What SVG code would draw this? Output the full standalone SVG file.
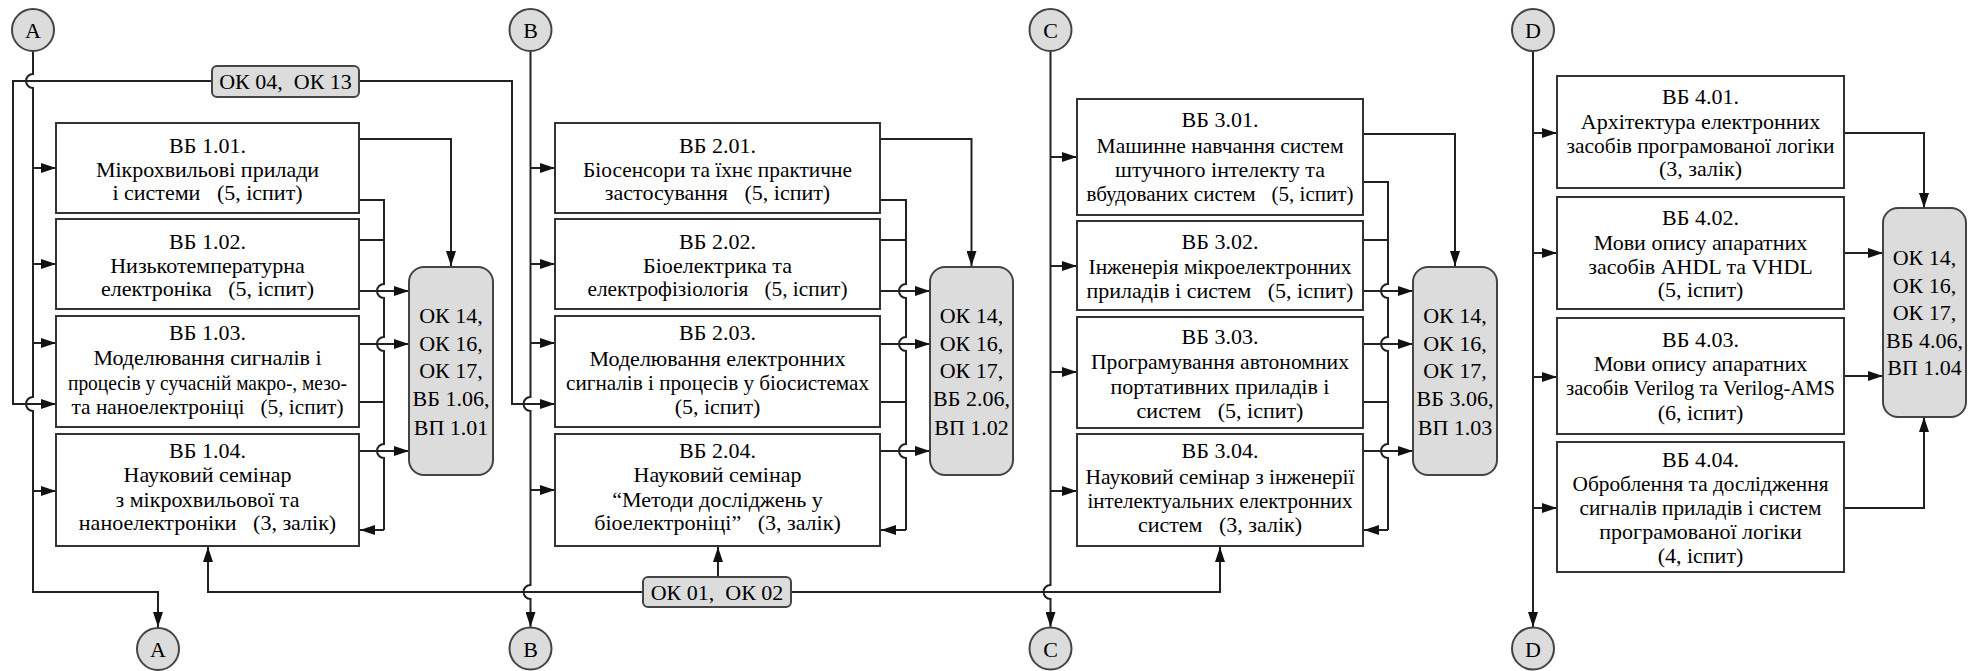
<svg xmlns="http://www.w3.org/2000/svg" width="1975" height="671" viewBox="0 0 1975 671">
<style>
.box{fill:#fff;stroke:#333;stroke-width:2}
.ok{fill:#dcdcdc;stroke:#444;stroke-width:2}
.cir{fill:#dcdcdc;stroke:#444;stroke-width:2}
text{font-family:"Liberation Serif","DejaVu Serif",serif;fill:#000;text-anchor:middle;white-space:pre}
.t{font-size:22px}
.k{font-size:22px}
.ln{fill:none;stroke:#222;stroke-width:2}
.a{marker-end:url(#ah)}
</style>
<defs>
<marker id="ah" markerUnits="userSpaceOnUse" markerWidth="15" markerHeight="10" refX="15" refY="5" orient="auto">
<path d="M0,0 L15,5 L0,10 z" fill="#111"/>
</marker>
</defs>
<rect width="1975" height="671" fill="#fff"/>

<g id="connectors">
<path class="ln a" d="M33,51 V74 A7,7 0 0 0 33,88 V397 A7,7 0 0 0 33,411 V592 H158 V627"/>
<path class="ln a" d="M33,168 H56"/>
<path class="ln a" d="M33,264 H56"/>
<path class="ln a" d="M33,343 H56"/>
<path class="ln a" d="M33,491 H56"/>
<path class="ln a" d="M212,81 H13 V404 H56"/>
<path class="ln a" d="M359,81 H512 V404 H555"/>
<path class="ln a" d="M359,139 H451 V266"/>
<path class="ln" d="M359,200 H384 V284 A7,7 0 0 0 384,298 V337 A7,7 0 0 0 384,351 V444 A7,7 0 0 0 384,458 V530"/>
<path class="ln a" d="M384,530 H360"/>
<path class="ln" d="M359,240 H384"/>
<path class="ln" d="M359,402 H384"/>
<path class="ln a" d="M359,291 H409"/>
<path class="ln a" d="M359,344 H409"/>
<path class="ln a" d="M359,451 H409"/>
<path class="ln a" d="M530.5,51 V397 A7,7 0 0 0 530.5,411 V585 A7,7 0 0 0 530.5,599 V627"/>
<path class="ln a" d="M530.5,168 H555"/>
<path class="ln a" d="M530.5,264 H555"/>
<path class="ln a" d="M530.5,343 H555"/>
<path class="ln a" d="M530.5,490 H555"/>
<path class="ln a" d="M880,139 H971.5 V266"/>
<path class="ln" d="M880,200 H906 V284 A7,7 0 0 0 906,298 V337 A7,7 0 0 0 906,351 V444 A7,7 0 0 0 906,458 V530"/>
<path class="ln a" d="M906,530 H881"/>
<path class="ln" d="M880,240 H906"/>
<path class="ln" d="M880,402 H906"/>
<path class="ln a" d="M880,291 H930"/>
<path class="ln a" d="M880,344 H930"/>
<path class="ln a" d="M880,451 H930"/>
<path class="ln a" d="M643,592 H208 V547"/>
<path class="ln a" d="M791,592 H1220 V547"/>
<path class="ln a" d="M718,577 V547"/>
<path class="ln a" d="M1050.5,51 V585 A7,7 0 0 0 1050.5,599 V627"/>
<path class="ln a" d="M1050.5,157 H1077"/>
<path class="ln a" d="M1050.5,266 H1077"/>
<path class="ln a" d="M1050.5,372 H1077"/>
<path class="ln a" d="M1050.5,491 H1077"/>
<path class="ln a" d="M1363,134 H1455 V266"/>
<path class="ln" d="M1363,182 H1388 V284 A7,7 0 0 0 1388,298 V337 A7,7 0 0 0 1388,351 V444 A7,7 0 0 0 1388,458 V530"/>
<path class="ln a" d="M1388,530 H1364"/>
<path class="ln" d="M1363,240 H1388"/>
<path class="ln" d="M1363,402 H1388"/>
<path class="ln a" d="M1363,291 H1413"/>
<path class="ln a" d="M1363,344 H1413"/>
<path class="ln a" d="M1363,451 H1413"/>
<path class="ln a" d="M1533,51 V627"/>
<path class="ln a" d="M1533,133 H1557"/>
<path class="ln a" d="M1533,253 H1557"/>
<path class="ln a" d="M1533,377 H1557"/>
<path class="ln a" d="M1533,508 H1557"/>
<path class="ln a" d="M1844,133 H1924 V208"/>
<path class="ln a" d="M1844,253 H1883"/>
<path class="ln a" d="M1844,376 H1883"/>
<path class="ln a" d="M1844,508 H1924 V417"/>
</g>

<g id="cA1"><circle class="cir" cx="33" cy="30" r="21"/><text class="k" x="33" y="38">A</text></g>
<g id="cB1"><circle class="cir" cx="530.5" cy="30" r="21"/><text class="k" x="530.5" y="38">B</text></g>
<g id="cC1"><circle class="cir" cx="1050.5" cy="30" r="21"/><text class="k" x="1050.5" y="38">C</text></g>
<g id="cD1"><circle class="cir" cx="1533" cy="30" r="21"/><text class="k" x="1533" y="38">D</text></g>
<g id="cA2"><circle class="cir" cx="158" cy="649" r="21"/><text class="k" x="158" y="657">A</text></g>
<g id="cB2"><circle class="cir" cx="530.5" cy="648.5" r="21"/><text class="k" x="530.5" y="656.5">B</text></g>
<g id="cC2"><circle class="cir" cx="1050.5" cy="648.5" r="21"/><text class="k" x="1050.5" y="656.5">C</text></g>
<g id="cD2"><circle class="cir" cx="1533" cy="648.5" r="21"/><text class="k" x="1533" y="656.5">D</text></g>

<g id="ok0413"><rect class="ok" x="212" y="66" width="147" height="31" rx="5"/><text class="k" x="285.5" y="89">ОК 04,  ОК 13</text></g>
<g id="ok0102"><rect class="ok" x="643" y="577" width="148" height="30" rx="5"/><text class="k" x="717" y="600">ОК 01,  ОК 02</text></g>

<g id="vb101"><rect class="box" x="56" y="123" width="303" height="90"/>
<text class="t" x="207.5" y="152.7">ВБ 1.01.</text><text class="t" x="207.5" y="177">Мікрохвильові прилади</text><text class="t" x="207.5" y="200.3">і системи   (5, іспит)</text></g>
<g id="vb102"><rect class="box" x="56" y="219" width="303" height="90"/>
<text class="t" x="207.5" y="248.7">ВБ 1.02.</text><text class="t" x="207.5" y="272.7">Низькотемпературна</text><text class="t" x="207.5" y="296.3">електроніка   (5, іспит)</text></g>
<g id="vb103"><rect class="box" x="56" y="316" width="303" height="111"/>
<text class="t" x="207.5" y="339.7">ВБ 1.03.</text><text class="t" x="207.5" y="364.7">Моделювання сигналів і</text><text class="t" x="207.5" y="389.7" textLength="279" lengthAdjust="spacingAndGlyphs">процесів у сучасній макро-, мезо-</text><text class="t" x="207.5" y="414.3" textLength="272" lengthAdjust="spacingAndGlyphs">та наноелектроніці   (5, іспит)</text></g>
<g id="vb104"><rect class="box" x="56" y="434" width="303" height="112"/>
<text class="t" x="207.5" y="458">ВБ 1.04.</text><text class="t" x="207.5" y="482">Науковий семінар</text><text class="t" x="207.5" y="507">з мікрохвильової та</text><text class="t" x="207.5" y="530.3">наноелектроніки   (3, залік)</text></g>
<g id="ok1"><rect class="ok" x="409" y="267" width="84" height="208" rx="15"/>
<text class="k" x="451" y="323">ОК 14,</text><text class="k" x="451" y="351">ОК 16,</text><text class="k" x="451" y="378">ОК 17,</text><text class="k" x="451" y="406">ВБ 1.06,</text><text class="k" x="451" y="434.7">ВП 1.01</text></g>

<g id="vb201"><rect class="box" x="555" y="123" width="325" height="90"/>
<text class="t" x="717.5" y="152.7">ВБ 2.01.</text><text class="t" x="717.5" y="177" textLength="269" lengthAdjust="spacingAndGlyphs">Біосенсори та їхнє практичне</text><text class="t" x="717.5" y="200.3">застосування   (5, іспит)</text></g>
<g id="vb202"><rect class="box" x="555" y="219" width="325" height="90"/>
<text class="t" x="717.5" y="248.7">ВБ 2.02.</text><text class="t" x="717.5" y="272.7">Біоелектрика та</text><text class="t" x="717.5" y="296.3" textLength="260" lengthAdjust="spacingAndGlyphs">електрофізіологія   (5, іспит)</text></g>
<g id="vb203"><rect class="box" x="555" y="316" width="325" height="111"/>
<text class="t" x="717.5" y="339.7">ВБ 2.03.</text><text class="t" x="717.5" y="366.3">Моделювання електронних</text><text class="t" x="717.5" y="389.7" textLength="303" lengthAdjust="spacingAndGlyphs">сигналів і процесів у біосистемах</text><text class="t" x="717.5" y="413.7">(5, іспит)</text></g>
<g id="vb204"><rect class="box" x="555" y="434" width="325" height="112"/>
<text class="t" x="717.5" y="458">ВБ 2.04.</text><text class="t" x="717.5" y="482">Науковий семінар</text><text class="t" x="717.5" y="507">“Методи досліджень у</text><text class="t" x="717.5" y="530.3">біоелектроніці”   (3, залік)</text></g>
<g id="ok2"><rect class="ok" x="930" y="267" width="83" height="208" rx="15"/>
<text class="k" x="971.5" y="323">ОК 14,</text><text class="k" x="971.5" y="351">ОК 16,</text><text class="k" x="971.5" y="378">ОК 17,</text><text class="k" x="971.5" y="406">ВБ 2.06,</text><text class="k" x="971.5" y="434.7">ВП 1.02</text></g>

<g id="vb301"><rect class="box" x="1077" y="99" width="286" height="116"/>
<text class="t" x="1220" y="127">ВБ 3.01.</text><text class="t" x="1220" y="152.7" textLength="247" lengthAdjust="spacingAndGlyphs">Машинне навчання систем</text><text class="t" x="1220" y="177">штучного інтелекту та</text><text class="t" x="1220" y="201.3" textLength="267" lengthAdjust="spacingAndGlyphs">вбудованих систем   (5, іспит)</text></g>
<g id="vb302"><rect class="box" x="1077" y="221" width="286" height="89"/>
<text class="t" x="1220" y="248.7">ВБ 3.02.</text><text class="t" x="1220" y="273.7" textLength="263" lengthAdjust="spacingAndGlyphs">Інженерія мікроелектронних</text><text class="t" x="1220" y="297.7">приладів і систем   (5, іспит)</text></g>
<g id="vb303"><rect class="box" x="1077" y="317" width="286" height="111"/>
<text class="t" x="1220" y="344.3">ВБ 3.03.</text><text class="t" x="1220" y="369.3" textLength="258" lengthAdjust="spacingAndGlyphs">Програмування автономних</text><text class="t" x="1220" y="393.7">портативних приладів і</text><text class="t" x="1220" y="417.7">систем   (5, іспит)</text></g>
<g id="vb304"><rect class="box" x="1077" y="434" width="286" height="112"/>
<text class="t" x="1220" y="458">ВБ 3.04.</text><text class="t" x="1220" y="483.7" textLength="269" lengthAdjust="spacingAndGlyphs">Науковий семінар з інженерії</text><text class="t" x="1220" y="508" textLength="265" lengthAdjust="spacingAndGlyphs">інтелектуальних електронних</text><text class="t" x="1220" y="532">систем   (3, залік)</text></g>
<g id="ok3"><rect class="ok" x="1413" y="267" width="84" height="208" rx="15"/>
<text class="k" x="1455" y="323">ОК 14,</text><text class="k" x="1455" y="351">ОК 16,</text><text class="k" x="1455" y="378">ОК 17,</text><text class="k" x="1455" y="406">ВБ 3.06,</text><text class="k" x="1455" y="434.7">ВП 1.03</text></g>

<g id="vb401"><rect class="box" x="1557" y="76" width="287" height="112"/>
<text class="t" x="1700.5" y="103.7">ВБ 4.01.</text><text class="t" x="1700.5" y="129.3">Архітектура електронних</text><text class="t" x="1700.5" y="152.7" textLength="268" lengthAdjust="spacingAndGlyphs">засобів програмованої логіки</text><text class="t" x="1700.5" y="176.3">(3, залік)</text></g>
<g id="vb402"><rect class="box" x="1557" y="197" width="287" height="112"/>
<text class="t" x="1700.5" y="225.3">ВБ 4.02.</text><text class="t" x="1700.5" y="250.3">Мови опису апаратних</text><text class="t" x="1700.5" y="273.7">засобів AHDL та VHDL</text><text class="t" x="1700.5" y="297">(5, іспит)</text></g>
<g id="vb403"><rect class="box" x="1557" y="318" width="287" height="116"/>
<text class="t" x="1700.5" y="347">ВБ 4.03.</text><text class="t" x="1700.5" y="371.3">Мови опису апаратних</text><text class="t" x="1700.5" y="395.3" textLength="269" lengthAdjust="spacingAndGlyphs">засобів Verilog та Verilog-AMS</text><text class="t" x="1700.5" y="420.3">(6, іспит)</text></g>
<g id="vb404"><rect class="box" x="1557" y="442" width="287" height="130"/>
<text class="t" x="1700.5" y="467">ВБ 4.04.</text><text class="t" x="1700.5" y="491.3" textLength="256" lengthAdjust="spacingAndGlyphs">Оброблення та дослідження</text><text class="t" x="1700.5" y="515.3" textLength="242" lengthAdjust="spacingAndGlyphs">сигналів приладів і систем</text><text class="t" x="1700.5" y="539.3">програмованої логіки</text><text class="t" x="1700.5" y="563">(4, іспит)</text></g>
<g id="ok4"><rect class="ok" x="1883" y="208" width="83" height="209" rx="15"/>
<text class="k" x="1924.5" y="264.7">ОК 14,</text><text class="k" x="1924.5" y="293">ОК 16,</text><text class="k" x="1924.5" y="319.7">ОК 17,</text><text class="k" x="1924.5" y="348">ВБ 4.06,</text><text class="k" x="1924.5" y="374.7">ВП 1.04</text></g>
</svg>
